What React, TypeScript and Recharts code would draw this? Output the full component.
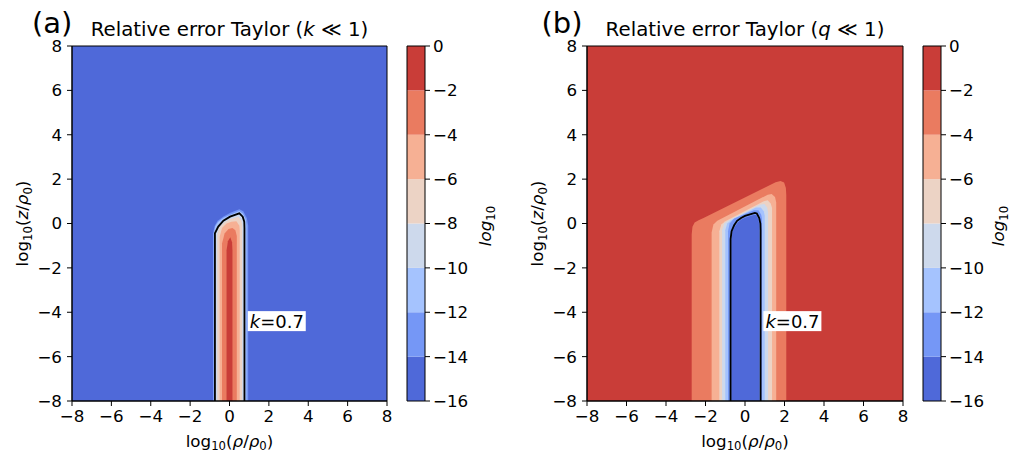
import React from 'react';
import { ComposedChart, Area, Line, XAxis, YAxis, Scatter } from 'recharts';

const FONT = '"DejaVu Sans", Verdana, sans-serif';

// axis ticks
const axisTicks = [-8, -6, -4, -2, 0, 2, 4, 6, 8];
const cbarTicks = [0, -2, -4, -6, -8, -10, -12, -14, -16];
// contour levels (log10 of relative error) and their fill colours
const levels = [-16, -14, -12, -10, -8, -6, -4, -2, 0];
const bandColors = ['#4f69d9', '#7597f6', '#a5c3fe', '#cdd9ec', '#ecd3c5', '#f6b094', '#ea7b60', '#c93d38'];

type P = { x: number; y: number };

// whole domain (background band)
const fullDomain: P[] = [{ x: -8, y: 8 }, { x: 8, y: 8 }];
const frame: P[] = [{ x: -8, y: -8 }, { x: -8, y: 8 }, { x: 8, y: 8 }, { x: 8, y: -8 }, { x: -8, y: -8 }];
const cbarFrame: P[] = [{ x: 0, y: -16 }, { x: 0, y: 0 }, { x: 1, y: 0 }, { x: 1, y: -16 }, { x: 0, y: -16 }];

// ---- panel (a): upper edges of each contour region (x, y)
const aBand1 = [[-0.84, -0.45], [-0.75, -0.1], [-0.6, 0.12], [-0.3, 0.32], [0.05, 0.48], [0.5, 0.64], [0.7, 0.55], [0.88, 0.25], [0.95, -0.1]];
const aBand2 = [[-0.8, -0.45], [-0.72, -0.12], [-0.58, 0.07], [-0.3, 0.26], [0.05, 0.4], [0.5, 0.56], [0.68, 0.45], [0.82, 0.2], [0.86, -0.1]];
const aBand3 = [[-0.73, -0.45], [-0.57, -0.14], [-0.31, 0.13], [0.03, 0.31], [0.5, 0.45], [0.66, 0.3], [0.76, 0.08]];
const aBand4 = [[-0.62, -0.5], [-0.5, -0.15], [-0.25, 0.06], [0.05, 0.2], [0.45, 0.3], [0.6, 0.13], [0.64, -0.05]];
const aBand5 = [[-0.5, -0.6], [-0.38, -0.2], [-0.15, 0.0], [0.1, 0.08], [0.35, 0.1], [0.5, -0.1], [0.52, -0.3]];
const aBand6 = [[-0.38, -0.9], [-0.25, -0.45], [-0.05, -0.25], [0.15, -0.2], [0.3, -0.3], [0.37, -0.55]];
const aBand7 = [[-0.15, -1.2], [-0.08, -0.8], [0.04, -0.62], [0.13, -0.85], [0.15, -1.2]];
const aContour = [[-0.74, -0.44], [-0.57, -0.14], [-0.31, 0.13], [0.03, 0.31], [0.5, 0.46], [0.67, 0.31], [0.75, 0.08], [0.76, -0.2]];

// ---- panel (b)
const bBand6 = [[-2.7, -0.5], [-2.66, -0.15], [-2.55, 0.05], [-2.35, 0.15], [-2.1, 0.25], [1.55, 1.86], [1.8, 1.92], [1.98, 1.85], [2.07, 1.6], [2.09, 1.3]];
const bBand5 = [[-1.69, -0.4], [-1.6, -0.05], [-1.4, 0.12], [1.15, 1.3], [1.35, 1.33], [1.52, 1.2], [1.58, 0.95]];
const bBand4 = [[-1.3, -0.35], [-1.2, -0.05], [-1.0, 0.1], [0.95, 1.0], [1.15, 1.05], [1.3, 0.9], [1.37, 0.7]];
const bBand3 = [[-1.16, -0.3], [-1.05, 0.0], [-0.85, 0.12], [0.75, 0.85], [0.98, 0.88], [1.12, 0.72], [1.17, 0.5]];
const bBand2 = [[-1.0, -0.3], [-0.9, 0.0], [-0.7, 0.15], [0.55, 0.72], [0.8, 0.72], [0.95, 0.55], [1.0, 0.35]];
const bBand1 = [[-0.86, -0.35], [-0.78, 0.0], [-0.55, 0.22], [0.45, 0.6], [0.68, 0.6], [0.82, 0.4], [0.86, 0.2]];
const bBand0 = [[-0.69, -0.75], [-0.63, -0.35], [-0.5, -0.12], [-0.35, 0.06], [-0.2, 0.17], [0.0, 0.26], [0.48, 0.4], [0.58, 0.37], [0.68, 0.18], [0.72, -0.05]];
const bContour = [[-0.73, -0.7], [-0.68, -0.35], [-0.55, -0.08], [-0.4, 0.12], [-0.2, 0.25], [0.0, 0.34], [0.5, 0.48], [0.6, 0.45], [0.72, 0.25], [0.78, 0.0], [0.79, -0.3]];

// contour label position
const labelPos: P[] = [{ x: 2.4, y: -4.4 }];
const labelText = '0.7';

function finger(top: number[][]): P[] {
  const first = top[0];
  const last = top[top.length - 1];
  return [{ x: first[0], y: -8 }, ...top.map(([x, y]) => ({ x, y })), { x: last[0], y: -8 }];
}

const fmt = (v: number) => String(v).replace('-', '\u2212');
const FS = 16.7;
const tickStyle = { fill: '#000', fontSize: FS, fontFamily: FONT };

const LabelShape = (props: any) => {
  const { cx, cy } = props;
  return (
    <g>
      <rect x={cx - 29} y={cy - 10} width={58} height={20} fill="#fff" />
      <text x={cx - 27} y={cy + 6.5} fontSize={18} fontFamily={FONT} fill="#000">
        <tspan fontStyle="italic">k</tspan>
        <tspan>={labelText}</tspan>
      </text>
    </g>
  );
};

type Band = { data: P[]; color: string };

function ContourPanel({ left, bg, bands, contour }: { left: number; bg: string; bands: Band[]; contour: P[] }) {
  return (
    <div style={{ position: 'absolute', left, top: 0 }}>
      <ComposedChart width={400} height={454} margin={{ top: 46, right: left === 0 ? 13 : 12, bottom: 23, left: 22 }}>
        <XAxis
          type="number"
          dataKey="x"
          domain={[-8, 8]}
          ticks={axisTicks}
          interval={0}
          tickFormatter={fmt}
          height={30}
          tickSize={5}
          tickMargin={4}
          tick={tickStyle}
          axisLine={{ stroke: '#000' }}
          tickLine={{ stroke: '#000' }}
        />
        <YAxis
          type="number"
          dataKey="y"
          domain={[-8, 8]}
          ticks={axisTicks}
          interval={0}
          tickFormatter={fmt}
          width={50}
          tickSize={5}
          tickMargin={5}
          tick={tickStyle}
          axisLine={{ stroke: '#000' }}
          tickLine={{ stroke: '#000' }}
        />
        <Area data={fullDomain} dataKey="y" type="linear" baseValue={-8} fill={bg} fillOpacity={1} stroke="none" isAnimationActive={false} />
        {bands.map((b, i) => (
          <Area key={i} data={b.data} dataKey="y" type="linear" baseValue={-8} fill={b.color} fillOpacity={1} stroke="none" isAnimationActive={false} />
        ))}
        <Line data={contour} dataKey="y" type="linear" stroke="#000" strokeWidth={1.8} dot={false} isAnimationActive={false} />
        <Line data={frame} dataKey="y" type="linear" stroke="#000" strokeWidth={1} dot={false} isAnimationActive={false} />
        <Scatter data={labelPos} dataKey="y" shape={LabelShape} isAnimationActive={false} />
      </ComposedChart>
    </div>
  );
}

function Colorbar({ left }: { left: number }) {
  return (
    <div style={{ position: 'absolute', left, top: 0 }}>
      <ComposedChart width={120} height={454} margin={{ top: 46, right: 25, bottom: 53, left: 27 }}>
        <XAxis type="number" dataKey="x" domain={[0, 1]} hide />
        <YAxis
          type="number"
          dataKey="y"
          orientation="right"
          domain={[-16, 0]}
          ticks={cbarTicks}
          interval={0}
          tickFormatter={fmt}
          width={50}
          tickSize={5}
          tickMargin={3}
          tick={tickStyle}
          axisLine={false}
          tickLine={{ stroke: '#000' }}
        />
        {bandColors.map((c, i) => (
          <Area
            key={i}
            data={[{ x: 0, y: levels[i + 1] }, { x: 1, y: levels[i + 1] }]}
            dataKey="y"
            type="linear"
            baseValue={levels[i]}
            fill={c}
            fillOpacity={1}
            stroke="none"
            isAnimationActive={false}
          />
        ))}
        <Line data={cbarFrame} dataKey="y" type="linear" stroke="#000" strokeWidth={1} dot={false} isAnimationActive={false} />
      </ComposedChart>
    </div>
  );
}

const aBands: Band[] = [aBand1, aBand2, aBand3, aBand4, aBand5, aBand6, aBand7].map((t, i) => ({ data: finger(t), color: bandColors[i + 1] }));
const bBands: Band[] = [bBand6, bBand5, bBand4, bBand3, bBand2, bBand1, bBand0].map((t, i) => ({ data: finger(t), color: bandColors[6 - i] }));

function Texts() {
  const sub = 11.7;
  const xLabel = (cx: number) => (
    <text x={cx} y={446.5} textAnchor="middle" fontSize={FS} fontFamily={FONT} fill="#000">
      <tspan>log</tspan>
      <tspan fontSize={sub} dy={3}>10</tspan>
      <tspan dy={-3}>(</tspan>
      <tspan fontStyle="italic">ρ</tspan>
      <tspan>/</tspan>
      <tspan fontStyle="italic">ρ</tspan>
      <tspan fontSize={sub} dy={3}>0</tspan>
      <tspan dy={-3}>)</tspan>
    </text>
  );
  const yLabel = (x: number) => (
    <text x={x} y={223.5} textAnchor="middle" fontSize={FS} fontFamily={FONT} fill="#000" transform={`rotate(-90 ${x} 223.5)`}>
      <tspan>log</tspan>
      <tspan fontSize={sub} dy={3.5}>10</tspan>
      <tspan dy={-3.5}>(</tspan>
      <tspan fontStyle="italic">z</tspan>
      <tspan>/</tspan>
      <tspan fontStyle="italic">ρ</tspan>
      <tspan fontSize={sub} dy={3.5}>0</tspan>
      <tspan dy={-3.5}>)</tspan>
    </text>
  );
  const cbLabel = (x: number) => (
    <text x={x} y={226} textAnchor="middle" fontSize={FS} fontFamily={FONT} fill="#000" transform={`rotate(-90 ${x} 226)`}>
      <tspan fontStyle="italic">log</tspan>
      <tspan fontSize={sub} dy={3.5}>10</tspan>
    </text>
  );
  const title = (cx: number, v: string) => (
    <text x={cx} y={36} textAnchor="middle" fontSize={19.8} fontFamily={FONT} fill="#000">
      <tspan>Relative error Taylor (</tspan>
      <tspan fontStyle="italic">{v}</tspan>
      <tspan> ≪ 1)</tspan>
    </text>
  );
  return (
    <svg width={1019} height={454} style={{ position: 'absolute', left: 0, top: 0, pointerEvents: 'none' }}>
      <text x={32} y={33} fontSize={29} fontFamily={FONT} fill="#000">(a)</text>
      <text x={541.5} y={33} fontSize={29} fontFamily={FONT} fill="#000">(b)</text>
      {title(229.5, 'k')}
      {title(745, 'q')}
      {xLabel(229.5)}
      {xLabel(745)}
      {yLabel(28)}
      {yLabel(543)}
      {cbLabel(491)}
      {cbLabel(1004)}
    </svg>
  );
}

export default function App() {
  return (
    <div style={{ position: 'absolute', left: 0, top: 0, width: 1019, height: 454, background: '#fff', fontFamily: FONT }}>
      <ContourPanel left={0} bg={bandColors[0]} bands={aBands} contour={finger(aContour)} />
      <Colorbar left={380} />
      <ContourPanel left={515} bg={bandColors[7]} bands={bBands} contour={finger(bContour)} />
      <Colorbar left={896} />
      <Texts />
    </div>
  );
}
